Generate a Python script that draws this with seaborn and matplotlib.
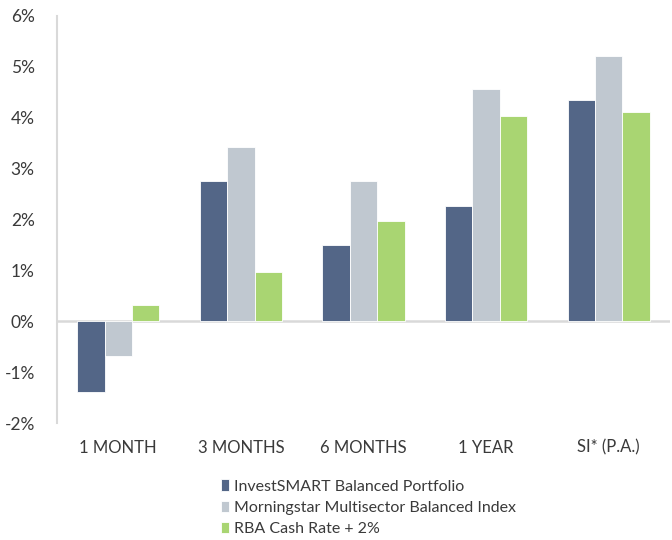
import pandas as pd
import numpy as np
import matplotlib.pyplot as plt
import seaborn as sns

periods = ["1 MONTH", "3 MONTHS", "6 MONTHS", "1 YEAR", "SI* (P.A.)"]
series_names = ["InvestSMART Balanced Portfolio",
                "Morningstar Multisector Balanced Index",
                "RBA Cash Rate + 2%"]
investsmart = [-1.40, 2.76, 1.50, 2.27, 4.35]
morningstar = [-0.69, 3.42, 2.76, 4.57, 5.22]
rba_cash = [0.31, 0.97, 1.97, 4.03, 4.11]
colors = ["#536687", "#C0C8D0", "#A9D572"]

df = pd.DataFrame({
    "Period": periods * 3,
    "Series": [series_names[0]] * 5 + [series_names[1]] * 5 + [series_names[2]] * 5,
    "Return": investsmart + morningstar + rba_cash,
})

sns.set_style("white")
plt.rcParams['font.family'] = ['Lato', 'DejaVu Sans']
text_col = "#3a3a3a"

fig = plt.figure(figsize=(6.72, 5.4), dpi=100)
ax = fig.add_axes([57/672, 1 - 423/540, 613/672, 407/540])

sns.barplot(data=df, x="Period", y="Return", hue="Series", palette=colors,
            saturation=1, width=0.67, edgecolor="white", linewidth=0.6, ax=ax)

ax.set_ylim(-2, 6)
ax.set_yticks(range(-2, 7))
ax.set_yticklabels([f"{v}%" for v in range(-2, 7)], fontsize=12.5, color=text_col)
ax.tick_params(axis="x", labelsize=12, colors=text_col, length=0, pad=12)
ax.tick_params(axis="y", length=0, pad=16)
ax.set_xlabel("")
ax.set_ylabel("")

for s in ["top", "right", "bottom"]:
    ax.spines[s].set_visible(False)
ax.spines["left"].set_color("#D9D9D9")
ax.spines["left"].set_linewidth(1.5)
ax.axhline(0, color="#D9D9D9", lw=1.8, zorder=0.5)

handles, labels = ax.get_legend_handles_labels()
ax.legend_.remove()
fig.legend(handles, labels, loc="upper left", bbox_to_anchor=(207/672, 1 - 465/540),
           frameon=False, fontsize=11.5, handlelength=0.5, handleheight=0.7,
           handletextpad=0.3, labelspacing=0.45, labelcolor=text_col)

fig.savefig("out.png", dpi=100)
